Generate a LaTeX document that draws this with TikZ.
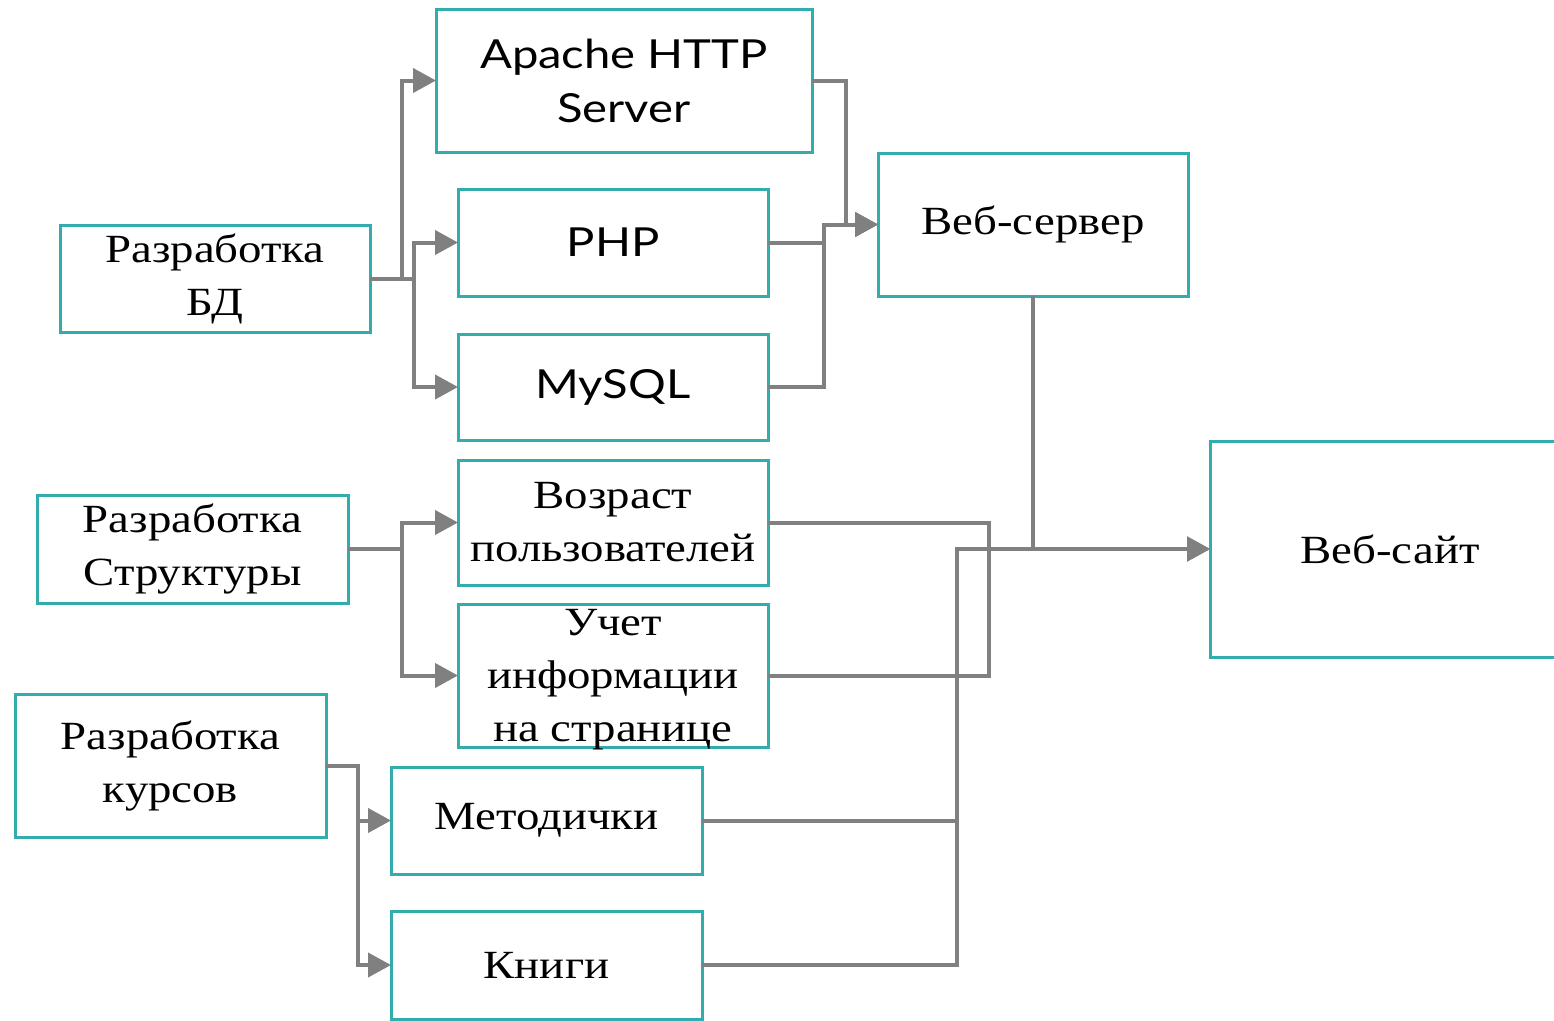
\documentclass[tikz,border=0pt]{standalone}
\usepackage{fontspec}
\setmainfont{Liberation Serif}[FakeStretch=1.17]
\newfontfamily\lato{Lato}[FakeStretch=1.18]
\usetikzlibrary{arrows.meta}
\definecolor{rama}{RGB}{50,172,172}
\definecolor{liniya}{RGB}{128,128,128}
\tikzset{
  tekst/.style={font=\fontsize{40}{53}\selectfont,align=center},
  sans/.style={font=\lato\fontsize{40}{54}\selectfont},
  box/.style={draw=rama,line width=3pt,outer sep=0pt,inner sep=2pt,tekst,minimum width=310pt},
  con/.style={draw=liniya,line width=4pt},
  arr/.style={con,-{Triangle[length=23pt,width=24pt]}}
}
\begin{document}
\begin{tikzpicture}[x=1pt,y=-1pt]
\useasboundingbox (0,0) rectangle (1554,1020);
\fill[white] (0,0) rectangle (1554,1020);
% boxes
\node[box,minimum height=107pt] (bd) at (215,278.5) {Разработка\\БД};
\node[box,sans,minimum width=376pt,minimum height=143pt] (apache) at (624,80.5) {Apache HTTP\\Server};
\node[box,sans,minimum height=107pt] (php) at (613,242.5) {PHP};
\node[box,sans,minimum height=106pt] (mysql) at (613,387) {MySQL};
\node[box,minimum height=143pt] (webserver) at (1033,224.5) {Веб-сервер};
\node[box,minimum width=360pt,minimum height=216pt] (website) at (1390,549) {Веб-сайт};
\node[box,minimum width=311pt,minimum height=108pt] (struct) at (192.5,549) {Разработка\\Структуры};
\node[box,minimum height=125pt] (vozrast) at (613,522.5) {Возраст\\пользователей};
\node[box,minimum height=143pt,label={[tekst,yshift=-4pt]center:Учет\\информации\\на странице}] (uchet) at (613,675.5) {};
\node[box,minimum width=311pt,minimum height=143pt] (kursov) at (170.5,765.5) {Разработка\\курсов};
\node[box,minimum width=311pt,minimum height=107pt] (metod) at (546.5,820.5) {Методички};
\node[box,minimum width=311pt,minimum height=108pt] (knigi) at (546.5,965) {Книги};
% connectors
\draw[arr] (bd.east) -- ++(32,0) |- (apache.west);
\draw[arr] (bd.east) -- ++(44,0) |- (php.west);
\draw[arr] (bd.east) -- ++(44,0) |- (mysql.west);
\draw[arr] (apache.east) -- ++(34,0) |- (webserver.west);
\draw[arr] (php.east) -- ++(56,0) |- (webserver.west);
\draw[arr] (mysql.east) -- ++(56,0) |- (webserver.west);
\draw[arr] (struct.east) -- ++(54,0) |- (vozrast.west);
\draw[arr] (struct.east) -- ++(54,0) |- (uchet.west);
\draw[con] (vozrast.east) -- ++(221,0) |- (uchet.east);
\draw[arr] (kursov.east) -- ++(32,0) |- (metod.west);
\draw[arr] (kursov.east) -- ++(32,0) |- (knigi.west);
\draw[arr] (metod.east) -- ++(255,0) |- (website.west);
\draw[arr] (knigi.east) -- ++(255,0) |- (website.west);
\draw[arr] (webserver.south) |- (website.west);
\end{tikzpicture}
\end{document}
